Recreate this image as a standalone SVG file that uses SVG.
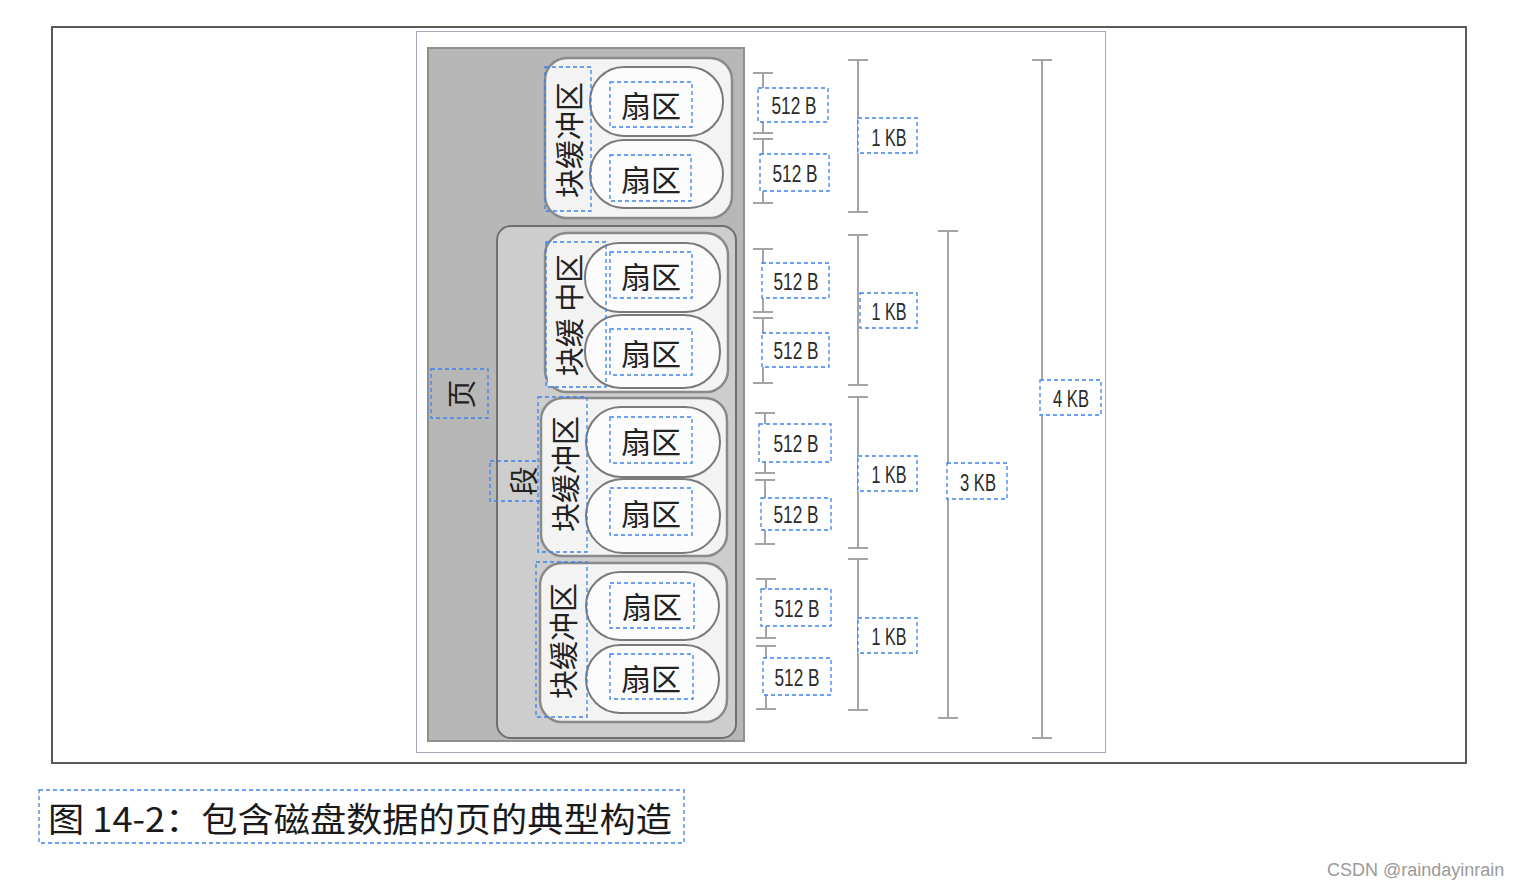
<svg xmlns="http://www.w3.org/2000/svg" width="1516" height="889" viewBox="0 0 1516 889">
<defs>
<style>
.frame{fill:#ffffff;stroke:#5a5a5a;stroke-width:2}
.inner{fill:#ffffff;stroke:#a3a8b2;stroke-width:1}
.page{fill:#b7b7b7;stroke:#8f8f8f;stroke-width:2}
.seg{fill:#cdcdcd;stroke:#6f6f6f;stroke-width:2}
.blk{fill:#f3f3f3;stroke:#8a8a8a;stroke-width:2.5}
.pill{fill:#fcfcfc;stroke:#7a7a7a;stroke-width:2}
.dash{fill:none;stroke:#3b82f0;stroke-width:1.3;stroke-dasharray:4 3}
.cjk{font-family:"Noto Sans CJK SC","Noto Sans",sans-serif;fill:#222;text-anchor:middle;dominant-baseline:central}
.sec{font-size:30px}
.vt{font-size:29px}
.num{font-family:"Liberation Sans",Arial,sans-serif;font-size:24px;fill:#2a2a2a;text-anchor:middle;dominant-baseline:central}
.bar{stroke:#a4a4a4;stroke-width:2;fill:none}
.cap{font-family:"Noto Sans CJK SC","Noto Sans",sans-serif;font-size:34px;fill:#1a1a1a;dominant-baseline:central}
.wm{font-family:"Liberation Sans",Arial,sans-serif;font-size:18px;fill:#9a9a9a}
</style>
</defs>
<rect width="1516" height="889" fill="#ffffff"/>
<rect class="frame" x="52" y="27" width="1414" height="736"/>
<rect class="inner" x="416.5" y="31.5" width="689" height="721"/>

<g id="page">
<rect class="page" x="428" y="48" width="316" height="693"/>
<rect class="dash" x="431" y="369" width="57" height="49"/>
<text class="cjk vt" transform="translate(460,394) rotate(-90)">页</text>
</g>

<g id="segment">
<rect class="seg" x="497" y="226" width="239" height="512" rx="14"/>
<rect class="dash" x="490" y="461" width="54" height="40"/>
<text class="cjk vt" transform="translate(522,481) rotate(-90)">段</text>
</g>

<g id="block1">
<rect class="blk" x="545" y="58" width="187" height="160" rx="22"/>
<rect class="pill" x="590" y="67" width="133" height="69" rx="34"/>
<rect class="pill" x="590" y="140" width="133" height="68" rx="34"/>
<rect class="dash" x="545" y="67" width="46" height="144"/>
<text class="cjk vt" transform="translate(568,140) rotate(-90)">块缓冲区</text>
<rect class="dash" x="610" y="82" width="82" height="45"/>
<text class="cjk sec" x="651" y="104">扇区</text>
<rect class="dash" x="610" y="155" width="81" height="46"/>
<text class="cjk sec" x="651" y="178">扇区</text>
</g>

<g id="block2">
<rect class="blk" x="545" y="233" width="183" height="159" rx="22"/>
<rect class="pill" x="585" y="243" width="135" height="69" rx="34"/>
<rect class="pill" x="585" y="315" width="135" height="73" rx="36"/>
<rect fill="#f3f3f3" x="548" y="246" width="36" height="140"/>
<rect class="dash" x="546" y="242" width="60" height="145"/>
<text class="cjk vt" transform="translate(568,315) rotate(-90)">块缓 中区</text>
<rect class="dash" x="610" y="252" width="82" height="46"/>
<text class="cjk sec" x="651" y="275">扇区</text>
<rect class="dash" x="610" y="329" width="82" height="46"/>
<text class="cjk sec" x="651" y="352">扇区</text>
</g>

<g id="block3">
<rect class="blk" x="541" y="398" width="186" height="158" rx="22"/>
<rect class="pill" x="586" y="407" width="134" height="70" rx="35"/>
<rect class="pill" x="586" y="479" width="134" height="74" rx="37"/>
<rect class="dash" x="538" y="397" width="49" height="155"/>
<text class="cjk vt" transform="translate(564,474) rotate(-90)">块缓冲区</text>
<rect class="dash" x="610" y="417" width="82" height="46"/>
<text class="cjk sec" x="651" y="440">扇区</text>
<rect class="dash" x="610" y="488" width="82" height="47"/>
<text class="cjk sec" x="651" y="512">扇区</text>
</g>

<g id="block4">
<rect class="blk" x="540" y="563" width="187" height="159" rx="22"/>
<rect class="pill" x="586" y="572" width="133" height="68" rx="34"/>
<rect class="pill" x="586" y="645" width="133" height="68" rx="34"/>
<rect class="dash" x="536" y="562" width="51" height="155"/>
<text class="cjk vt" transform="translate(562,641) rotate(-90)">块缓冲区</text>
<rect class="dash" x="610" y="583" width="84" height="45"/>
<text class="cjk sec" x="652" y="605">扇区</text>
<rect class="dash" x="610" y="654" width="83" height="45"/>
<text class="cjk sec" x="651" y="677">扇区</text>
</g>

<g id="connectors">
<path class="bar" d="M763 73V133M753 73H773M753 133H773M763 139V203M753 139H773M753 203H773"/>
<path class="bar" d="M763 249V312M753 249H773M753 312H773M763 318V383M753 318H773M753 383H773"/>
<path class="bar" d="M765 413V473M755 413H775M755 473H775M765 480V544M755 480H775M755 544H775"/>
<path class="bar" d="M766 579V638M756 579H776M756 638H776M766 646V709M756 646H776M756 709H776"/>
<path class="bar" d="M858 60V212M848 60H868M848 212H868M858 235V385M848 235H868M848 385H868"/>
<path class="bar" d="M858 397V548M848 397H868M848 548H868M858 559V710M848 559H868M848 710H868"/>
<path class="bar" d="M948 231V718M938 231H958M938 718H958"/>
<path class="bar" d="M1042 60V738M1032 60H1052M1032 738H1052"/>
</g>

<g id="labels">
<rect fill="#ffffff" x="758" y="88" width="70" height="34"/>
<rect class="dash" x="758" y="88" width="70" height="34"/>
<text class="num" x="794" y="105" textLength="45" lengthAdjust="spacingAndGlyphs">512 B</text>
<rect fill="#ffffff" x="760" y="154" width="69" height="37"/>
<rect class="dash" x="760" y="154" width="69" height="37"/>
<text class="num" x="795" y="173" textLength="45" lengthAdjust="spacingAndGlyphs">512 B</text>
<rect fill="#ffffff" x="762" y="263" width="67" height="35"/>
<rect class="dash" x="762" y="263" width="67" height="35"/>
<text class="num" x="796" y="281" textLength="45" lengthAdjust="spacingAndGlyphs">512 B</text>
<rect fill="#ffffff" x="762" y="333" width="67" height="34"/>
<rect class="dash" x="762" y="333" width="67" height="34"/>
<text class="num" x="796" y="350" textLength="45" lengthAdjust="spacingAndGlyphs">512 B</text>
<rect fill="#ffffff" x="759" y="424" width="72" height="38"/>
<rect class="dash" x="759" y="424" width="72" height="38"/>
<text class="num" x="796" y="443" textLength="45" lengthAdjust="spacingAndGlyphs">512 B</text>
<rect fill="#ffffff" x="761" y="498" width="70" height="32"/>
<rect class="dash" x="761" y="498" width="70" height="32"/>
<text class="num" x="796" y="514" textLength="45" lengthAdjust="spacingAndGlyphs">512 B</text>
<rect fill="#ffffff" x="761" y="589" width="70" height="37"/>
<rect class="dash" x="761" y="589" width="70" height="37"/>
<text class="num" x="797" y="608" textLength="45" lengthAdjust="spacingAndGlyphs">512 B</text>
<rect fill="#ffffff" x="763" y="658" width="68" height="37"/>
<rect class="dash" x="763" y="658" width="68" height="37"/>
<text class="num" x="797" y="677" textLength="45" lengthAdjust="spacingAndGlyphs">512 B</text>

<rect fill="#ffffff" x="858" y="118" width="59" height="35"/>
<rect class="dash" x="858" y="118" width="59" height="35"/>
<text class="num" x="889" y="137" textLength="35" lengthAdjust="spacingAndGlyphs">1 KB</text>
<rect fill="#ffffff" x="860" y="293" width="57" height="35"/>
<rect class="dash" x="860" y="293" width="57" height="35"/>
<text class="num" x="889" y="311" textLength="35" lengthAdjust="spacingAndGlyphs">1 KB</text>
<rect fill="#ffffff" x="858" y="456" width="59" height="35"/>
<rect class="dash" x="858" y="456" width="59" height="35"/>
<text class="num" x="889" y="474" textLength="35" lengthAdjust="spacingAndGlyphs">1 KB</text>
<rect fill="#ffffff" x="858" y="618" width="59" height="35"/>
<rect class="dash" x="858" y="618" width="59" height="35"/>
<text class="num" x="889" y="636" textLength="35" lengthAdjust="spacingAndGlyphs">1 KB</text>

<rect fill="#ffffff" x="947" y="463" width="60" height="36"/>
<rect class="dash" x="947" y="463" width="60" height="36"/>
<text class="num" x="978" y="482" textLength="36" lengthAdjust="spacingAndGlyphs">3 KB</text>
<rect fill="#ffffff" x="1040" y="380" width="61" height="35"/>
<rect class="dash" x="1040" y="380" width="61" height="35"/>
<text class="num" x="1071" y="398" textLength="36" lengthAdjust="spacingAndGlyphs">4 KB</text>
</g>

<g id="caption">
<rect class="dash" x="39" y="790" width="645" height="53"/>
<text class="cap" x="48" y="817" textLength="624" lengthAdjust="spacingAndGlyphs">图 14-2：包含磁盘数据的页的典型构造</text>
</g>
<text class="wm" x="1327" y="876">CSDN @raindayinrain</text>
</svg>
